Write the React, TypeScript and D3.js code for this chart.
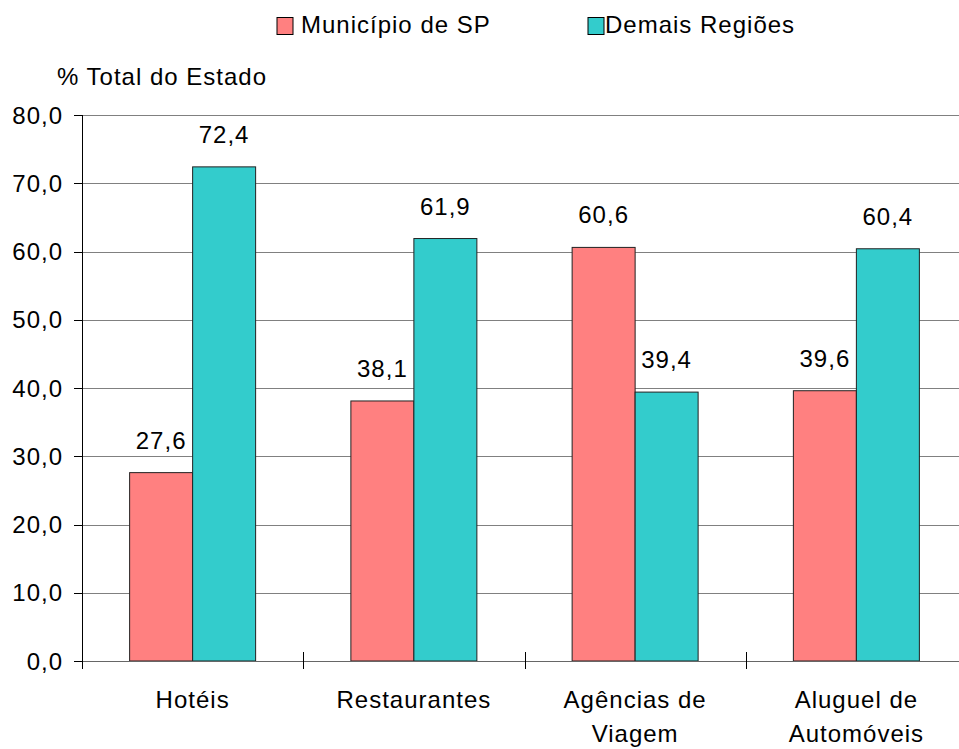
import React from "react";
import * as d3 from "d3";

const categories: string[][] = [["Hotéis"], ["Restaurantes"], ["Agências de", "Viagem"], ["Aluguel de", "Automóveis"]];
const seriesNames = ["Município de SP", "Demais Regiões"];
const seriesColors = ["#FF8080", "#33CCCC"];
const municipio = [27.6, 38.1, 60.6, 39.6];
const demais = [72.4, 61.9, 39.4, 60.4];
const yTicks = [0, 10, 20, 30, 40, 50, 60, 70, 80];
const yTitle = "% Total do Estado";

const W = 959;
const H = 749;
const FONT = "'Liberation Sans', Arial, sans-serif";

export default function App() {
  const left = 82;
  const right = 967;
  const top = 115;
  const bottom = 661;
  const keys = categories.map((c) => c.join(" "));
  const x = d3.scaleBand<string>().domain(keys).range([left, right]).padding(0);
  const xs = d3
    .scaleBand<number>()
    .domain([0, 1])
    .range([0, x.bandwidth()])
    .paddingInner(0)
    .paddingOuter(0.756);
  const y = d3.scaleLinear().domain([0, 80]).range([bottom, top]);
  const series = [municipio, demais];
  const textStyle = { fontFamily: FONT, fontSize: 24, letterSpacing: 1, fill: "#000" } as const;

  return (
    <svg width={W} height={H} style={{ position: "absolute", left: 0, top: 0, background: "#fff" }}>
      {/* legend */}
      <g>
        <rect x={277} y={17.5} width={16} height={17} fill={seriesColors[0]} stroke="#000" strokeWidth={1} />
        <text x={301} y={33} {...textStyle}>{seriesNames[0]}</text>
        <rect x={588} y={17.5} width={16} height={17} fill={seriesColors[1]} stroke="#000" strokeWidth={1} />
        <text x={605} y={33} {...textStyle}>{seriesNames[1]}</text>
      </g>
      <text x={57} y={85} {...textStyle}>{yTitle}</text>
      {/* gridlines */}
      {yTicks.slice(1).map((t) => (
        <line key={t} x1={left} x2={W} y1={Math.round(y(t)) + 0.5} y2={Math.round(y(t)) + 0.5} stroke="#808080" strokeWidth={1} />
      ))}
      {/* y ticks & labels */}
      {yTicks.map((t) => (
        <g key={"t" + t}>
          <line x1={74} x2={left} y1={Math.round(y(t)) + 0.5} y2={Math.round(y(t)) + 0.5} stroke="#000" strokeWidth={1} />
          <text x={63} y={y(t) + 8.5} textAnchor="end" {...textStyle}>
            {d3.format(".1f")(t).replace(".", ",")}
          </text>
        </g>
      ))}
      {/* bars */}
      {keys.map((k, i) => (
        <g key={k}>
          {series.map((s, j) => {
            const bx = (x(k) as number) + (xs(j) as number);
            const by = y(s[i]);
            return (
              <g key={j}>
                <rect x={bx} y={by} width={xs.bandwidth()} height={bottom - by} fill={seriesColors[j]} stroke="#222" strokeWidth={1} />
                <text x={bx + xs.bandwidth() / 2} y={by - 24} textAnchor="middle" {...textStyle}>
                  {d3.format(".1f")(s[i]).replace(".", ",")}
                </text>
              </g>
            );
          })}
        </g>
      ))}
      {/* x axis */}
      <line x1={left} x2={W} y1={bottom + 0.5} y2={bottom + 0.5} stroke="#666" strokeWidth={1.2} />
      <line x1={left + 0.5} x2={left + 0.5} y1={top} y2={669} stroke="#000" strokeWidth={1} />
      {keys.slice(1).map((k) => (
        <line key={"xt" + k} x1={Math.round(x(k) as number) + 0.5} x2={Math.round(x(k) as number) + 0.5} y1={652} y2={669} stroke="#000" strokeWidth={1} />
      ))}
      {categories.map((c, i) => (
        <text key={"cl" + i} textAnchor="middle" {...textStyle}>
          {c.map((line, li) => (
            <tspan key={li} x={(x(keys[i]) as number) + x.bandwidth() / 2} y={708 + li * 34}>
              {line}
            </tspan>
          ))}
        </text>
      ))}
    </svg>
  );
}
